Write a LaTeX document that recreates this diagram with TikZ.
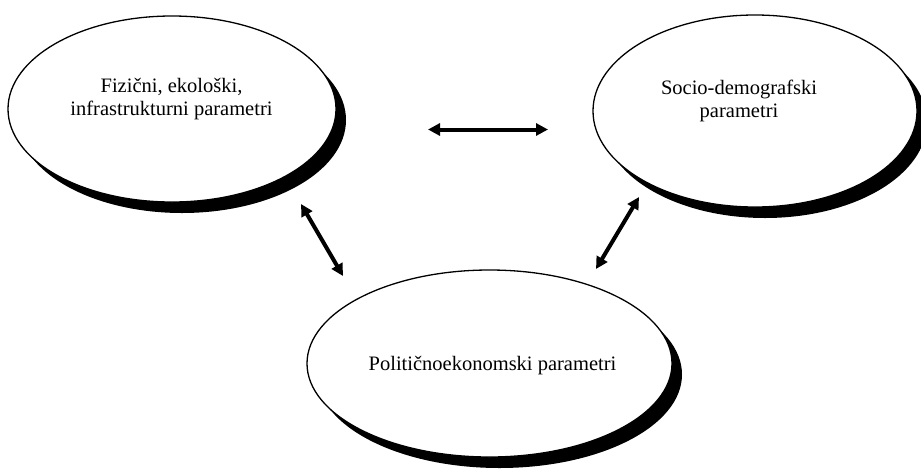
\documentclass[tikz,border=0pt]{standalone}
\usepackage{fontspec}
\setmainfont{Liberation Serif}
\usetikzlibrary{shapes.geometric,shadows,arrows.meta}

\tikzset{
  paramellipse/.style={
    ellipse, draw=black, line width=1.3pt, fill=white,
    inner sep=0pt, outer sep=0pt,
    general shadow={fill=black, shadow xshift=10pt, shadow yshift=-11pt}
  },
  paramtext/.style={font=\fontsize{20.5}{23}\selectfont, align=center, inner sep=0pt},
  link/.style={line width=4pt, {Triangle[length=12pt,width=12pt]}-{Triangle[length=12pt,width=12pt]}}
}

\begin{document}
\begin{tikzpicture}[x=1pt,y=-1pt]
  \useasboundingbox (0,0) rectangle (921,472);

  % three parameter groups
  \node[paramellipse, minimum width=328pt, minimum height=186pt] (phys) at (172,109) {};
  \node[paramellipse, minimum width=324pt, minimum height=192pt] (socio) at (755,111) {};
  \node[paramellipse, minimum width=365pt, minimum height=187pt] (polit) at (489.5,363.5) {};

  \node[paramtext] (physlabel) at (171.5,98.7) {Fizični, ekološki,\\infrastrukturni parametri};
  \node[paramtext] (sociolabel) at (739,101.2) {Socio-demografski\\parametri};
  \node[paramtext, anchor=base] (politlabel) at (492.5,370) {Političnoekonomski parametri};

  % two-way links between the groups
  \coordinate (hl) at (428,129.5);
  \coordinate (hr) at (548,129.5);
  \coordinate (dl1) at (301,204);
  \coordinate (dl2) at (343,276);
  \coordinate (dr1) at (639,197);
  \coordinate (dr2) at (596,269);

  \draw[link] (hl) -- (hr);
  \draw[link] (dl1) -- (dl2);
  \draw[link] (dr1) -- (dr2);
\end{tikzpicture}
\end{document}
